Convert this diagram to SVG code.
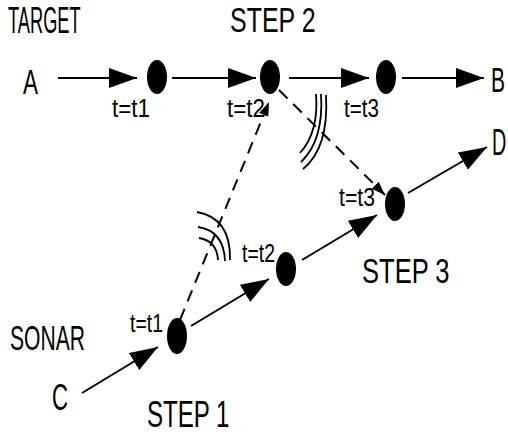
<svg xmlns="http://www.w3.org/2000/svg" width="508" height="435" viewBox="0 0 508 435">
<defs>
<style>
.big{font-family:"Liberation Sans",Arial,sans-serif;font-size:36px;fill:#000}
.sm{font-family:"Liberation Sans",Arial,sans-serif;font-size:25px;fill:#000}
.ln{stroke:#000;stroke-width:2;fill:none}
.arr{marker-end:url(#ah)}
.dash{stroke-dasharray:12 8;marker-end:url(#ahs)}
.dot{fill:#000}
.wave{stroke:#000;stroke-width:1.8;fill:none}
</style>
<marker id="ah" markerUnits="userSpaceOnUse" viewBox="0 0 28 20" refX="28" refY="10" markerWidth="28" markerHeight="20" orient="auto">
<path d="M0,0 L28,10 L0,20 Z" fill="#000"/>
</marker>
<marker id="ahs" markerUnits="userSpaceOnUse" viewBox="0 0 14 10" refX="14" refY="5" markerWidth="14" markerHeight="10" orient="auto">
<path d="M0,0 L14,5 L0,10 Z" fill="#000"/>
</marker>
</defs>
<rect width="508" height="435" fill="#fff"/>

<g id="connectors">
<path class="ln arr" d="M58,78 L137,78"/>
<path class="ln arr" d="M172,78 L256,78"/>
<path class="ln arr" d="M289,78 L369,78"/>
<path class="ln arr" d="M402,78 L484,78"/>
<path class="ln arr" d="M82,393 L158,347"/>
<path class="ln arr" d="M191,326 L269,279"/>
<path class="ln arr" d="M302,260 L377,215"/>
<path class="ln arr" d="M408,193 L487,147"/>
<path class="ln dash" d="M180,320 L269,102"/>
<path class="ln dash" d="M279,90 L385,195"/>
</g>

<g id="waves">
<path class="wave" d="M316,94 Q319,132 300,153"/>
<path class="wave" d="M321,94 Q324,140 301,162"/>
<path class="wave" d="M326,95 Q329,148 303,169"/>
<path class="wave" d="M197,212 Q231,218 230,260"/>
<path class="wave" d="M198,227 Q224,231 225,261"/>
<path class="wave" d="M199,238 Q217,241 218,260"/>
</g>

<g id="label-target"><text class="big" transform="translate(8,33) scale(0.507,1)">TARGET</text></g>
<g id="label-sonar"><text class="big" transform="translate(10,350) scale(0.586,1)">SONAR</text></g>

<g id="node-A"><text class="big" transform="translate(23,94) scale(0.625,1)">A</text></g>
<g id="node-B"><text class="big" transform="translate(491,92) scale(0.583,1)">B</text></g>
<g id="node-C"><text class="big" transform="translate(52,410) scale(0.615,1)">C</text></g>
<g id="node-D"><text class="big" transform="translate(492,155) scale(0.55,1)">D</text></g>

<g id="node-target-t1">
<ellipse class="dot" cx="157" cy="77" rx="10" ry="17"/>
<text class="sm" transform="translate(112,117) scale(0.896,1)">t=t1</text>
</g>
<g id="node-target-t2">
<ellipse class="dot" cx="270" cy="77" rx="10" ry="17"/>
<text class="sm" transform="translate(227,117) scale(0.896,1)">t=t2</text>
<text class="big" transform="translate(230,32) scale(0.693,1)">STEP 2</text>
</g>
<g id="node-target-t3">
<ellipse class="dot" cx="386" cy="77" rx="10" ry="17"/>
<text class="sm" transform="translate(344,117) scale(0.825,1)">t=t3</text>
</g>
<g id="node-sonar-t1">
<ellipse class="dot" cx="177" cy="336" rx="10" ry="18"/>
<text class="sm" transform="translate(130,332) scale(0.778,1)">t=t1</text>
<text class="big" transform="translate(147,427) scale(0.669,1)">STEP 1</text>
</g>
<g id="node-sonar-t2">
<ellipse class="dot" cx="286" cy="269" rx="10" ry="17"/>
<text class="sm" transform="translate(242,262) scale(0.778,1)">t=t2</text>
</g>
<g id="node-sonar-t3">
<ellipse class="dot" cx="395" cy="204" rx="10" ry="17"/>
<text class="sm" transform="translate(339,206) scale(0.85,1)">t=t3</text>
<text class="big" transform="translate(362,283) scale(0.71,1)">STEP 3</text>
</g>
</svg>
